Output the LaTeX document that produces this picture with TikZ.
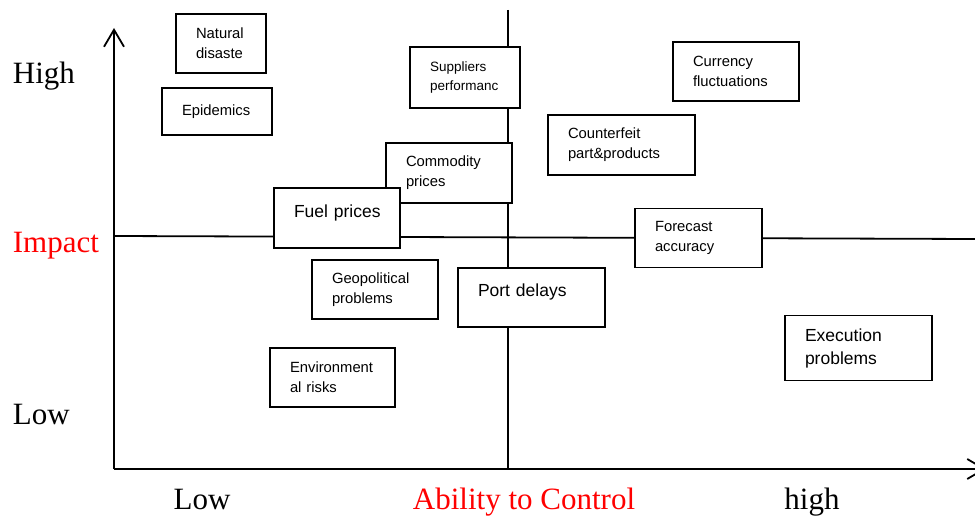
\documentclass[tikz,border=0pt]{standalone}
\usepackage{fontspec}
\setmainfont{Liberation Serif}
\newfontfamily\boxfont{Liberation Sans}
\usetikzlibrary{arrows.meta}

\begin{document}
\begin{tikzpicture}[x=1pt, y=-1pt, line width=1.8pt,
	riskbox/.style={draw=black, fill=white, rectangle, align=left, inner xsep=20pt, inner ysep=0pt, font=\boxfont\fontsize{14.8}{20}\selectfont},
	bigtext/.style={font=\boxfont\fontsize{17.5}{23}\selectfont},
	axislabel/.style={inner sep=0pt, font=\fontsize{31}{31}\selectfont}]
	\useasboundingbox (0,0) rectangle (975,516);

	\coordinate (O) at (114,469);
	\coordinate (Ytop) at (114,28);
	\coordinate (Xend) at (986,469);
	\coordinate (Vtop) at (508,10);
	\coordinate (Vbot) at (508,469);
	\coordinate (Hleft) at (114,236);
	\coordinate (Hright) at (975,239);

	\draw[-{Straight Barb[length=17pt, width=20pt]}] (O) -- (Ytop);
	\draw[-{Straight Barb[length=17pt, width=20pt]}] (O) -- (Xend);
	\draw (Vtop) -- (Vbot);
	\draw (Hleft) -- (Hright);

	\node[axislabel, anchor=base west] (high) at (12,84) {High};
	\node[axislabel, anchor=base west, text=red] (impact) at (12,252) {Impact};
	\node[axislabel, anchor=base west] (low) at (12,424) {Low};
	\node[axislabel, anchor=base] (xlow) at (202,509) {Low};
	\node[axislabel, anchor=base, text=red] (ability) at (524,509) {Ability to Control};
	\node[axislabel, anchor=base] (xhigh) at (812,509) {high};

	\node[riskbox, text width=50pt, minimum height=59pt] (nat) at (221,43.5) {Natural\\disaste};
	\node[riskbox, text width=70pt, minimum height=47pt] (epi) at (217,111.5) {Epidemics};
	\node[riskbox, text width=70pt, minimum height=61pt, font=\boxfont\fontsize{13.5}{19}\selectfont] (sup) at (465,77.5) {Suppliers\\performanc};
	\node[riskbox, text width=86pt, minimum height=59pt] (cur) at (736,71.5) {Currency\\fluctuations};
	\node[riskbox, text width=107pt, minimum height=60pt] (cnt) at (621.5,145) {Counterfeit\\part\&products};
	\node[riskbox, text width=86pt, minimum height=60pt] (com) at (449,173) {Commodity\\prices};
	\node[riskbox, bigtext, text width=86pt, minimum height=60pt, text depth=14pt] (fuel) at (337,218) {Fuel~prices};
	\node[riskbox, text width=87pt, minimum height=59pt] (fcst) at (698.5,238) {Forecast\\accuracy};
	\node[riskbox, text width=86pt, minimum height=59pt] (geo) at (375,289.5) {Geopolitical\\problems};
	\node[riskbox, bigtext, text width=107pt, minimum height=59pt, text depth=14pt] (port) at (531.5,297.5) {Port delays};
	\node[riskbox, bigtext, text width=107pt, minimum height=65pt] (exe) at (858.5,348) {Execution\\problems};
	\node[riskbox, text width=85pt, minimum height=59pt] (env) at (332.5,377.5) {Environment\\al risks};
\end{tikzpicture}
\end{document}
